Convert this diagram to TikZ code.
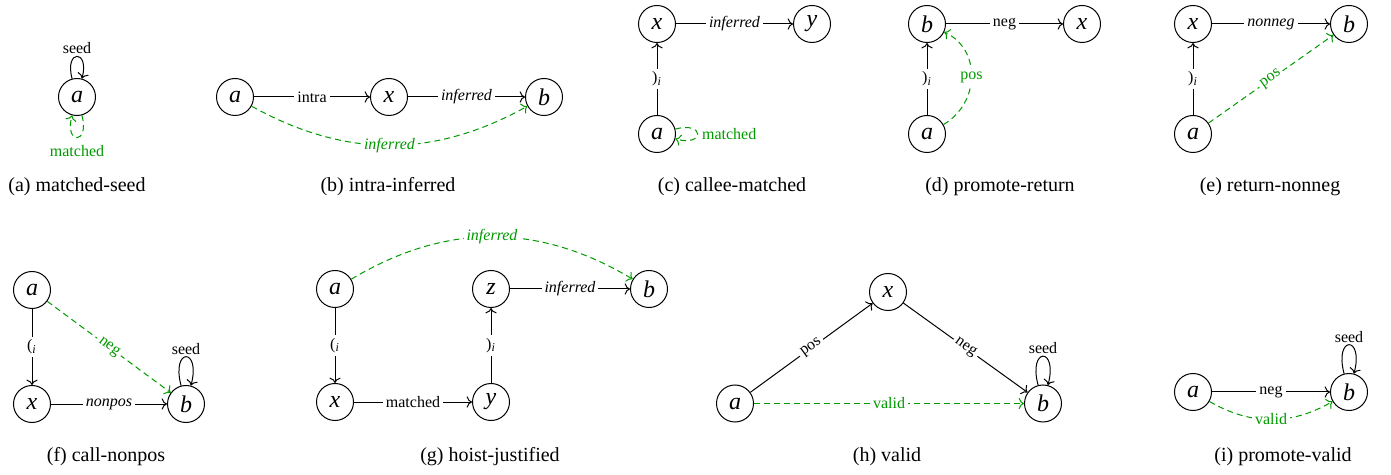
\documentclass[tikz,border=0pt]{standalone}
\usepackage{fontspec}
\setmainfont{Liberation Serif}
\usetikzlibrary{arrows.meta}
\begin{document}
\begin{tikzpicture}[x=0.5pt,y=0.5pt,>=To,line width=0.5pt,
  st/.style={circle,draw,minimum size=18.5pt,inner sep=0pt,font=\large\itshape},
  lab/.style={fill=white,inner sep=1.5pt,font=\footnotesize},
  itl/.style={lab,font=\footnotesize\itshape},
  gr/.style={color=green!60!black,dash pattern=on 3pt off 2pt},
  lp/.style={above,inner sep=1pt,font=\footnotesize},
  tall/.style={min distance=7mm},
  captxt/.style={font=\normalsize}]
\useasboundingbox (0,0) rectangle (1391,-475);
% (a)
\node[st] (a1) at (77,-97) {a};
\draw[->] (a1) to[loop above] node[lp] {seed} (a1);
\draw[->,gr] (a1) to[loop below] node[below,inner sep=3.5pt,font=\footnotesize] {matched} (a1);
\node[captxt] (c1) at (77,-187) {(a) matched-seed};
% (b)
\node[st] (a2) at (235,-97) {a};
\node[st] (x2) at (389,-97) {x};
\node[st] (b2) at (544,-97) {b};
\draw[->] (a2) -- node[lab] {intra} (x2);
\draw[->] (x2) -- node[itl] {inferred} (b2);
\draw[->,gr] (a2) to[bend right=29] node[itl] {inferred} (b2);
\node[captxt] (c2) at (388,-187) {(b) intra-inferred};
% (c)
\node[st] (x3) at (657,-24) {x};
\node[st] (y3) at (812,-24) {y};
\node[st] (a3) at (657,-134) {a};
\draw[->] (a3) -- node[lab] {)\textsubscript{\textit{i}}} (x3);
\draw[->] (x3) -- node[itl] {inferred} (y3);
\draw[->,gr] (a3) to[loop right] node[right,inner sep=2pt,font=\footnotesize] {matched} (a3);
\node[captxt] (c3) at (732,-187) {(c) callee-matched};
% (d)
\node[st] (b4) at (927,-24) {b};
\node[st] (x4) at (1082,-24) {x};
\node[st] (a4) at (927,-134) {a};
\draw[->] (a4) -- node[lab] {)\textsubscript{\textit{i}}} (b4);
\draw[->] (b4) -- node[lab] {neg} (x4);
\draw[->,gr] (a4) to[out=30,in=-25,looseness=1.15] node[lab] {pos} (b4);
\node[captxt] (c4) at (1000,-187) {(d) promote-return};
% (e)
\node[st] (x5) at (1193,-24) {x};
\node[st] (b5) at (1349,-24) {b};
\node[st] (a5) at (1193,-134) {a};
\draw[->] (a5) -- node[lab] {)\textsubscript{\textit{i}}} (x5);
\draw[->] (x5) -- node[itl] {nonneg} (b5);
\draw[->,gr] (a5) -- node[lab,sloped] {pos} (b5);
\node[captxt] (c5) at (1270,-187) {(e) return-nonneg};
% (f)
\node[st] (a6) at (32,-290) {a};
\node[st] (x6) at (32,-404) {x};
\node[st] (b6) at (186,-404) {b};
\draw[->] (a6) -- node[lab] {(\textsubscript{\textit{i}}} (x6);
\draw[->] (x6) -- node[itl] {nonpos} (b6);
\draw[->,gr] (a6) -- node[lab,sloped] {neg} (b6);
\draw[->] (b6) to[loop above,tall] node[lp] {seed} (b6);
\node[captxt] (c6) at (106,-457) {(f) call-nonpos};
% (g)
\node[st] (a7) at (335,-289) {a};
\node[st] (x7) at (335,-402) {x};
\node[st] (y7) at (491,-402) {y};
\node[st] (z7) at (491,-289) {z};
\node[st] (b7) at (649,-289) {b};
\draw[->] (a7) -- node[lab] {(\textsubscript{\textit{i}}} (x7);
\draw[->] (x7) -- node[lab] {matched} (y7);
\draw[->] (y7) -- node[lab] {)\textsubscript{\textit{i}}} (z7);
\draw[->] (z7) -- node[itl] {inferred} (b7);
\draw[->,gr] (a7) to[bend left=31] node[itl] {inferred} (b7);
\node[captxt] (c7) at (490,-457) {(g) hoist-justified};
% (h)
\node[st] (a8) at (735,-403.5) {a};
\node[st] (x8) at (888,-292) {x};
\node[st] (b8) at (1043,-403.5) {b};
\draw[->] (a8) -- node[lab,sloped] {pos} (x8);
\draw[->] (x8) -- node[lab,sloped] {neg} (b8);
\draw[->,gr] (a8) -- node[lab] {valid} (b8);
\draw[->] (b8) to[loop above,tall] node[lp] {seed} (b8);
\node[captxt] (c8) at (887,-457) {(h) valid};
% (i)
\node[st] (a9) at (1193,-392) {a};
\node[st] (b9) at (1349,-392) {b};
\draw[->] (a9) -- node[lab] {neg} (b9);
\draw[->,gr] (a9) to[bend right=30] node[lab] {valid} (b9);
\draw[->] (b9) to[loop above,tall] node[lp] {seed} (b9);
\node[captxt] (c9) at (1283,-457) {(i) promote-valid};
\end{tikzpicture}
\end{document}
